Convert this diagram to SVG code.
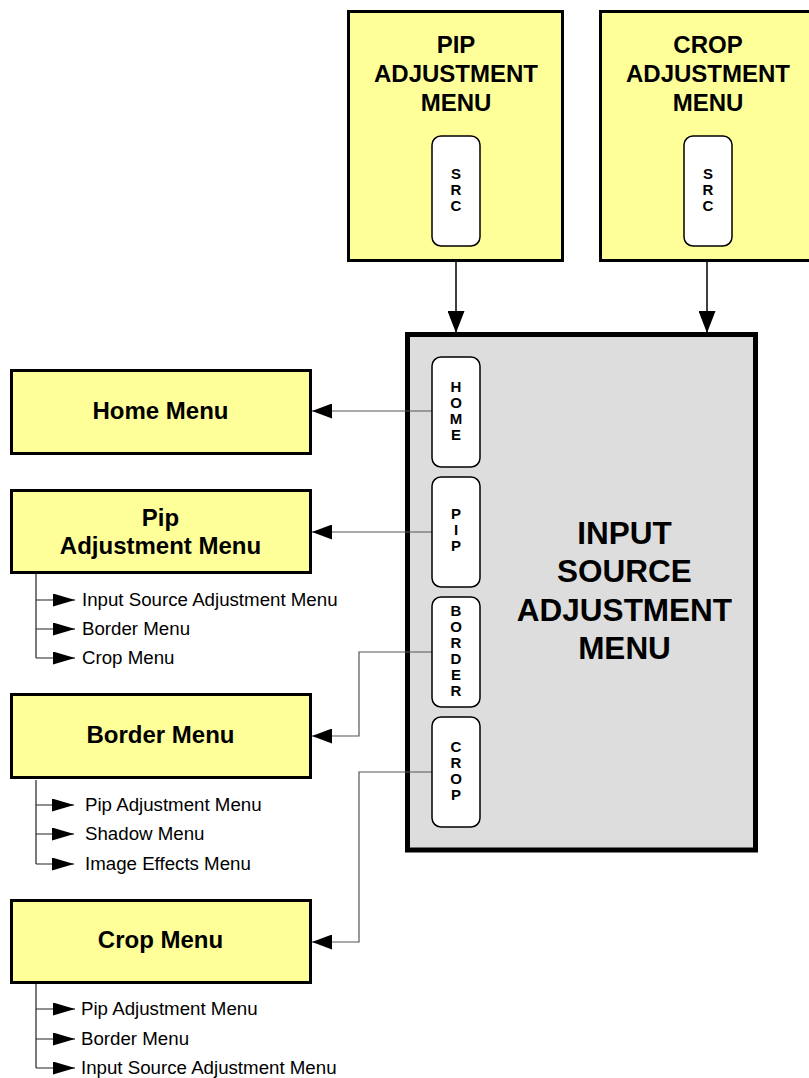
<svg xmlns="http://www.w3.org/2000/svg" width="809" height="1078" viewBox="0 0 809 1078">
<style>
.ybox{fill:#FFFF99;stroke:#000;stroke-width:3}
.main{fill:#DDDDDD;stroke:#000;stroke-width:5}
.btn{fill:#fff;stroke:#000;stroke-width:1.5}
.t24{font-family:"Liberation Sans",Arial,sans-serif;font-weight:bold;font-size:24px;text-anchor:middle;fill:#000}
.t32{font-family:"Liberation Sans",Arial,sans-serif;font-weight:bold;font-size:31.5px;text-anchor:middle;fill:#000}
.bt{font-family:"Liberation Sans",Arial,sans-serif;font-weight:bold;font-size:15px;text-anchor:middle;fill:#000}
.item{font-family:"Liberation Sans",Arial,sans-serif;font-size:18.7px;fill:#000}
.conn{fill:none;stroke:#555;stroke-width:1.2}
.conn-top{fill:none;stroke:#000;stroke-width:1.5}
.sub{fill:none;stroke:#222;stroke-width:1.2}
</style>
<defs>
<marker id="arr" markerUnits="userSpaceOnUse" markerWidth="20" markerHeight="15" refX="20" refY="7.5" orient="auto">
<path d="M0,0 L20,7.5 L0,15 z" fill="#000"/>
</marker>
<marker id="arrTop" markerUnits="userSpaceOnUse" markerWidth="22" markerHeight="17" refX="22" refY="8.5" orient="auto">
<path d="M0,0 L22,8.5 L0,17 z" fill="#000"/>
</marker>
<marker id="arrSub" markerUnits="userSpaceOnUse" markerWidth="22" markerHeight="13" refX="22" refY="6.5" orient="auto">
<path d="M0,0 L22,6.5 L0,13 z" fill="#000"/>
</marker>
</defs>

<g id="pip-adjustment-top">
<rect class="ybox" x="348.5" y="11.5" width="214" height="249"/>
<text class="t24" x="456" y="53">PIP</text>
<text class="t24" x="456" y="82">ADJUSTMENT</text>
<text class="t24" x="456" y="111">MENU</text>
<rect class="btn" x="432" y="136" width="48" height="110" rx="9"/>
<text class="bt" x="456" y="179">S</text>
<text class="bt" x="456" y="195">R</text>
<text class="bt" x="456" y="211">C</text>
</g>

<g id="crop-adjustment-top">
<rect class="ybox" x="600.5" y="11.5" width="216" height="249"/>
<text class="t24" x="708" y="53">CROP</text>
<text class="t24" x="708" y="82">ADJUSTMENT</text>
<text class="t24" x="708" y="111">MENU</text>
<rect class="btn" x="684" y="136" width="48" height="110" rx="9"/>
<text class="bt" x="708" y="179">S</text>
<text class="bt" x="708" y="195">R</text>
<text class="bt" x="708" y="211">C</text>
</g>

<g id="input-source-adjustment">
<rect class="main" x="407.5" y="334.5" width="348" height="515.5"/>
<text class="t32" x="624.5" y="544">INPUT</text>
<text class="t32" x="624.5" y="582">SOURCE</text>
<text class="t32" x="624.5" y="621">ADJUSTMENT</text>
<text class="t32" x="624.5" y="659">MENU</text>
</g>

<g id="home-menu">
<rect class="ybox" x="11.5" y="370.5" width="299" height="83"/>
<text class="t24" x="160.5" y="419">Home Menu</text>
</g>

<g id="pip-adjustment-menu">
<rect class="ybox" x="11.5" y="490.5" width="299" height="82"/>
<text class="t24" x="160.5" y="526">Pip</text>
<text class="t24" x="160.5" y="554">Adjustment Menu</text>
</g>
<g id="pip-items">
<text class="item" x="82" y="606">Input Source Adjustment Menu</text>
<text class="item" x="82" y="635">Border Menu</text>
<text class="item" x="82" y="664">Crop Menu</text>
</g>

<g id="border-menu">
<rect class="ybox" x="11.5" y="694.5" width="299" height="83"/>
<text class="t24" x="160.5" y="743">Border Menu</text>
</g>
<g id="border-items">
<text class="item" x="85" y="811">Pip Adjustment Menu</text>
<text class="item" x="85" y="840">Shadow Menu</text>
<text class="item" x="85" y="870">Image Effects Menu</text>
</g>

<g id="crop-menu">
<rect class="ybox" x="11.5" y="900.5" width="299" height="82"/>
<text class="t24" x="160.5" y="948">Crop Menu</text>
</g>
<g id="crop-items">
<text class="item" x="81" y="1015">Pip Adjustment Menu</text>
<text class="item" x="81" y="1045">Border Menu</text>
<text class="item" x="81" y="1074">Input Source Adjustment Menu</text>
</g>

<g id="connectors">
<path class="conn-top" d="M456,262 L456,333" marker-end="url(#arrTop)"/>
<path class="conn-top" d="M707,262 L707,333" marker-end="url(#arrTop)"/>
<path class="conn" d="M432,411 L312,411" marker-end="url(#arr)"/>
<path class="conn" d="M432,532 L312,532" marker-end="url(#arr)"/>
<path class="conn" d="M432,652 H359 V736 H312" marker-end="url(#arr)"/>
<path class="conn" d="M432,772 H359 V942 H312" marker-end="url(#arr)"/>
<path class="sub" d="M36,574 V658"/>
<path class="sub" d="M36,600 H75" marker-end="url(#arrSub)"/>
<path class="sub" d="M36,629 H75" marker-end="url(#arrSub)"/>
<path class="sub" d="M36,658 H75" marker-end="url(#arrSub)"/>
<path class="sub" d="M36,780 V864"/>
<path class="sub" d="M36,805 H74" marker-end="url(#arrSub)"/>
<path class="sub" d="M36,834 H74" marker-end="url(#arrSub)"/>
<path class="sub" d="M36,864 H74" marker-end="url(#arrSub)"/>
<path class="sub" d="M36,984 V1068"/>
<path class="sub" d="M36,1009 H75" marker-end="url(#arrSub)"/>
<path class="sub" d="M36,1039 H75" marker-end="url(#arrSub)"/>
<path class="sub" d="M36,1068 H75" marker-end="url(#arrSub)"/>
</g>

<g id="btn-home">
<rect class="btn" x="432" y="357" width="48" height="110" rx="9"/>
<text class="bt" x="456" y="392">H</text>
<text class="bt" x="456" y="408">O</text>
<text class="bt" x="456" y="424">M</text>
<text class="bt" x="456" y="440">E</text>
</g>
<g id="btn-pip">
<rect class="btn" x="432" y="477" width="48" height="110" rx="9"/>
<text class="bt" x="456" y="519">P</text>
<text class="bt" x="456" y="535">I</text>
<text class="bt" x="456" y="551">P</text>
</g>
<g id="btn-border">
<rect class="btn" x="432" y="597" width="48" height="110" rx="9"/>
<text class="bt" x="456" y="616">B</text>
<text class="bt" x="456" y="632">O</text>
<text class="bt" x="456" y="648">R</text>
<text class="bt" x="456" y="664">D</text>
<text class="bt" x="456" y="680">E</text>
<text class="bt" x="456" y="696">R</text>
</g>
<g id="btn-crop">
<rect class="btn" x="432" y="717" width="48" height="110" rx="9"/>
<text class="bt" x="456" y="752">C</text>
<text class="bt" x="456" y="768">R</text>
<text class="bt" x="456" y="784">O</text>
<text class="bt" x="456" y="800">P</text>
</g>
</svg>
